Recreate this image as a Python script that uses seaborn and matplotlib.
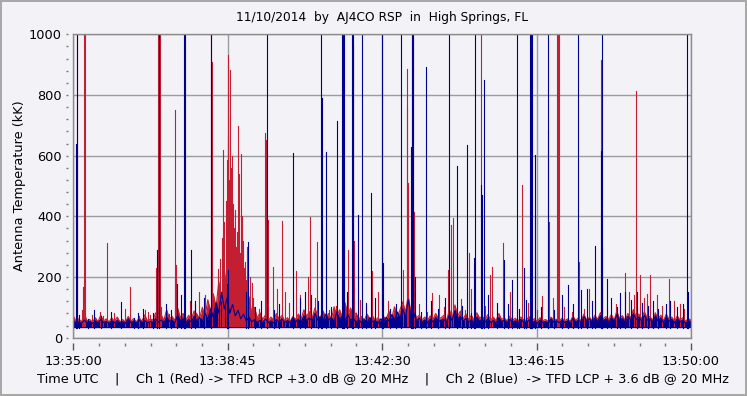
import numpy as np
import pandas as pd
import matplotlib
matplotlib.use('Agg')
import matplotlib.pyplot as plt
from matplotlib.ticker import MultipleLocator, FixedLocator
import seaborn as sns

# time axis: seconds after 13:35:00, noise band sampled every 4 s
baseStep = 4.0
tickSeconds = [0, 225, 450, 675, 900]
tickLabels = ['13:35:00', '13:38:45', '13:42:30', '13:46:15', '13:50:00']

# bottom of the noise band for each channel (kK)
redFloor = 38
blueFloor = 33

# Ch 1 (red) top of the noise band, one row per minute
redBase = [
    72, 54, 62, 52, 78, 56, 60, 51, 66, 53, 74, 55, 62, 52, 65,
    54, 68, 52, 60, 51, 70, 55, 63, 52, 66, 54, 75, 56, 61, 58,
    82, 60, 76, 57, 92, 62, 70, 56, 98, 65, 80, 58, 74, 60, 88,
    78, 62, 100, 70, 125, 85, 145, 100, 185, 120, 225, 140, 265, 160, 245,
    210, 130, 175, 100, 135, 80, 100, 65, 82, 60, 75, 56, 68, 58, 80,
    60, 74, 56, 66, 54, 70, 60, 78, 62, 92, 70, 86, 65, 98, 72,
    68, 88, 64, 80, 60, 102, 70, 92, 66, 115, 75, 98, 68, 82, 62,
    70, 58, 78, 62, 72, 57, 66, 55, 70, 60, 88, 65, 102, 70, 92,
    118, 85, 138, 80, 98, 65, 74, 58, 68, 56, 72, 60, 80, 62, 66,
    74, 58, 92, 65, 108, 72, 88, 62, 78, 60, 74, 58, 82, 65, 70,
    60, 76, 58, 68, 56, 80, 60, 66, 55, 71, 58, 64, 54, 68, 60,
    57, 70, 55, 63, 53, 66, 56, 60, 54, 68, 57, 61, 55, 64, 56,
    62, 54, 71, 57, 66, 55, 78, 58, 68, 56, 74, 60, 83, 62, 70,
    60, 76, 58, 88, 62, 73, 57, 80, 65, 93, 68, 78, 62, 86, 66,
    70, 58, 82, 62, 74, 56, 78, 60, 68, 55, 72, 58, 66, 54, 63,
    58,
]

# Ch 2 (blue) top of the noise band
blueBase = [
    56, 48, 52, 47, 58, 50, 53, 47, 55, 49, 60, 50, 54, 47, 56,
    49, 57, 48, 53, 47, 62, 50, 55, 48, 58, 50, 56, 49, 53, 51,
    62, 52, 58, 50, 68, 54, 57, 49, 75, 55, 63, 51, 60, 53, 70,
    56, 66, 54, 80, 60, 95, 68, 115, 82, 150, 95, 130, 80, 110, 72,
    90, 62, 78, 55, 68, 52, 60, 50, 57, 49, 62, 50, 55, 49, 60,
    51, 62, 50, 57, 49, 66, 53, 60, 51, 72, 56, 65, 54, 80, 58,
    68, 55, 78, 58, 66, 53, 85, 60, 70, 55, 76, 58, 63, 52, 58,
    50, 60, 49, 66, 52, 57, 48, 62, 51, 68, 54, 76, 58, 85, 62,
    95, 66, 125, 72, 82, 55, 64, 51, 58, 49, 62, 52, 67, 54, 57,
    60, 51, 76, 56, 90, 60, 70, 54, 64, 52, 58, 50, 67, 54, 60,
    52, 62, 50, 57, 48, 66, 52, 58, 49, 61, 51, 55, 48, 60, 52,
    49, 59, 48, 54, 47, 58, 50, 53, 48, 62, 51, 56, 49, 58, 50,
    55, 48, 64, 52, 58, 49, 70, 54, 62, 51, 66, 54, 72, 56, 62,
    52, 66, 54, 76, 56, 63, 51, 70, 58, 80, 60, 68, 55, 74, 58,
    62, 52, 72, 55, 65, 50, 68, 54, 60, 49, 63, 52, 58, 48, 55,
    52,
]

# bursts (seconds after 13:35:00, kK); values above 1000 run off the top
redSpikeT = [5.0, 13.7, 15.6, 17.0, 38.9, 49.5, 83.0, 104.5, 111.8, 121.0,
             124.1, 125.6, 147.7, 148.6, 149.6, 183.6, 191.9, 200.6, 202.1, 211.3,
             214.0, 216.0, 218.6, 220.0, 221.8, 223.5, 225.0, 225.8, 226.9, 227.5,
             228.3, 229.8, 231.0, 232.0, 233.0, 234.1, 235.5, 237.0, 238.5, 240.4,
             241.9, 243.0, 244.3, 246.0, 247.3, 248.7, 250.0, 251.6, 253.0, 254.5,
             257.0, 261.0, 279.7, 281.0, 284.1, 291.4, 304.5, 308.5, 324.0, 342.4,
             345.3, 354.6, 394.4, 400.7, 409.4, 434.8, 480.8, 485.8, 486.6, 488.1,
             493.0, 494.5, 496.8, 523.0, 546.4, 549.9, 553.7, 564.4, 577.0, 579.4,
             593.6, 607.1, 609.6, 626.5, 654.2, 683.3, 691.2, 692.6, 704.5, 705.9,
             707.3, 736.8, 751.8, 768.4, 797.0, 804.3, 817.4, 820.3, 826.1, 836.3,
             840.7, 867.5, 884.0]
redSpikeV = [1200, 168, 1500, 1500, 85, 312, 168, 90, 75, 230,
             1500, 1500, 200, 750, 240, 150, 140, 1200, 910, 225,
             260, 330, 619, 380, 450, 585, 932, 660, 520, 470,
             882, 560, 600, 440, 380, 361, 420, 300, 350, 698,
             540, 280, 607, 400, 320, 230, 250, 190, 300, 160,
             200, 180, 674, 650, 388, 232, 383, 150, 220, 200,
             399, 316, 320, 289, 320, 220, 223, 885, 756, 510,
             1500, 1500, 415, 147, 223, 371, 393, 128, 278, 160,
             1500, 207, 233, 313, 503, 136, 684, 382, 1500, 1500,
             1500, 250, 160, 915, 110, 212, 140, 813, 207, 145,
             207, 195, 110]

# smaller needles sticking out of the red band
redSmallT = [12, 27, 44, 60, 76, 96, 109, 128, 139, 170,
             178, 262, 270, 297, 315, 331, 352, 372, 383, 418,
             427, 444, 459, 470, 503, 516, 533, 540, 571, 586,
             600, 617, 636, 646, 663, 676, 699, 715, 727, 744,
             760, 777, 790, 810, 831, 850, 858, 875, 890]
redSmallV = [90, 75, 70, 80, 95, 72, 85, 100, 78, 120,
             110, 130, 95, 160, 115, 140, 130, 90, 105, 125,
             100, 150, 120, 95, 110, 85, 140, 100, 90, 120,
             105, 80, 150, 95, 115, 90, 130, 100, 85, 95,
             120, 100, 110, 150, 130, 140, 105, 120, 95]

blueSpikeT = [4.0, 5.2, 30.6, 69.5, 94.3, 122.4, 125.3, 151.5, 161.7, 163.2,
              171.9, 200.6, 224.4, 225.8, 251.6, 255.0, 282.2, 320.5, 337.6, 360.5,
              362.4, 368.6, 384.6, 391.1, 392.5, 393.7, 405.6, 407.1, 408.0, 415.2,
              421.1, 433.3, 449.3, 451.7, 477.0, 491.6, 493.5, 494.9, 497.9, 514.3,
              547.8, 558.6, 574.0, 584.2, 585.7, 594.0, 595.5, 598.8, 627.0, 639.6,
              646.0, 656.0, 665.4, 666.9, 667.9, 672.6, 673.4, 692.0, 721.2, 735.8,
              748.0, 755.3, 760.6, 768.9, 769.9, 770.8, 778.0, 791.7, 804.3, 821.3,
              844.6, 863.1, 893.7, 896.0]
blueSpikeV = [640, 1500, 90, 119, 80, 290, 1500, 177, 1500, 1500,
              290, 1500, 177, 223, 150, 316, 1500, 608, 150, 1500,
              790, 612, 715, 1500, 1500, 1500, 1500, 1500, 960, 404,
              1500, 476, 1500, 245, 1500, 630, 1500, 1500, 200, 891,
              1500, 566, 635, 263, 1500, 503, 470, 849, 256, 190,
              1500, 230, 1500, 1500, 1500, 602, 404, 1500, 174, 1500,
              160, 120, 302, 616, 1500, 300, 192, 100, 150, 150,
              120, 110, 1500, 150]

blueSmallT = [9, 21, 40, 55, 88, 101, 116, 135, 143, 157,
              178, 190, 265, 274, 292, 300, 330, 347, 356, 376,
              399, 426, 440, 462, 470, 507, 521, 532, 541, 567,
              579, 604, 617, 633, 649, 660, 682, 700, 712, 728,
              739, 784, 797, 812, 828, 838, 852, 870, 880, 888]
blueSmallV = [75, 60, 70, 85, 65, 95, 80, 110, 90, 140,
              120, 130, 100, 120, 90, 110, 130, 140, 120, 100,
              150, 115, 130, 95, 110, 85, 120, 95, 130, 105,
              80, 140, 115, 110, 95, 125, 100, 90, 140, 110,
              157, 130, 148, 125, 113, 105, 95, 120, 100, 110]

redColor = '#C41E32'
blueColor = '#00008F'
bgColor = '#F3F3F7'
gridColor = '#9C9C9C'


def bandFrame(baseVals, floor):
    # two rows per sample: floor and top, so the min-max interval fills the band
    baseT = np.arange(len(baseVals)) * baseStep
    return pd.DataFrame({
        't': np.concatenate([baseT, baseT]),
        'v': np.concatenate([np.full(len(baseVals), float(floor)), np.array(baseVals, dtype=float)]),
    })


def needleFrame(spikeT, spikeV, floor):
    # each needle is its own unit: a vertical segment from the floor up to the peak
    n = len(spikeT)
    return pd.DataFrame({
        't': np.repeat(np.array(spikeT, dtype=float), 2),
        'v': np.ravel(np.column_stack([np.full(n, float(floor)), np.array(spikeV, dtype=float)])),
        'unit': np.repeat(np.arange(n), 2),
    })


def drawChannel(ax, baseVals, spikeT, spikeV, floor, color):
    sns.lineplot(data=bandFrame(baseVals, floor), x='t', y='v', ax=ax, color=color,
                 estimator='max', errorbar=('pi', 100), lw=0.8,
                 err_kws={'alpha': 1.0, 'linewidth': 0})
    sns.lineplot(data=needleFrame(spikeT, spikeV, floor), x='t', y='v', units='unit',
                 ax=ax, color=color, estimator=None, sort=False, lw=0.8)


plt.rcParams['font.family'] = ['DejaVu Sans']
plt.rcParams['font.size'] = 9

fig = plt.figure(figsize=(7.47, 3.96), dpi=100)
fig.patch.set_facecolor(bgColor)
fig.patch.set_edgecolor('#A8A8A8')
fig.patch.set_linewidth(1.5)
ax = fig.add_axes([73.3 / 747, 1 - 337.7 / 396, 617.7 / 747, 303.4 / 396])
ax.set_facecolor(bgColor)

drawChannel(ax, redBase, redSpikeT + redSmallT, redSpikeV + redSmallV, redFloor, redColor)
drawChannel(ax, blueBase, blueSpikeT + blueSmallT, blueSpikeV + blueSmallV, blueFloor, blueColor)

ax.set_xlim(0, 900)
ax.set_ylim(0, 1000)
ax.set_xticks(tickSeconds)
ax.set_yticks([0, 200, 400, 600, 800, 1000])
ax.grid(True, color=gridColor, lw=1.0)
ax.set_axisbelow(True)
ax.tick_params(length=0, labelbottom=False, labelleft=False)
ax.set_xlabel('')
ax.set_ylabel('')
for sp in ax.spines.values():
    sp.set_color('#8C8C8C')
    sp.set_linewidth(1.0)

# ticks sit a few pixels away from the frame, like the original app
secX = ax.secondary_xaxis(-5 / 303.4)
secX.spines['bottom'].set_visible(False)
secX.set_xticks(tickSeconds)
secX.set_xticklabels(tickLabels, fontsize=9.3)
secX.xaxis.set_minor_locator(FixedLocator([t for t in np.arange(0, 901, 37.5) if t not in tickSeconds]))
secX.tick_params(which='major', length=5, width=1, color='#555555', pad=4)
secX.tick_params(which='minor', length=2.2, width=1, color='#777777')

secY = ax.secondary_yaxis(-5 / 617.7)
secY.spines['left'].set_visible(False)
secY.set_yticks([0, 200, 400, 600, 800, 1000])
secY.set_yticklabels(['0', '200', '400', '600', '800', '1000'], fontsize=9.3)
secY.yaxis.set_minor_locator(MultipleLocator(40))
secY.tick_params(which='both', length=1.5, width=1, color='#777777', pad=3)

fig.text(382 / 747, 1 - 17 / 396, '11/10/2014  by  AJ4CO RSP  in  High Springs, FL',
         ha='center', va='center', fontsize=8.8)
fig.text(20 / 747, 1 - 186 / 396, 'Antenna Temperature (kK)', rotation=90,
         ha='center', va='center', fontsize=9.3)
fig.text(383 / 747, 1 - 379 / 396,
         'Time UTC    |    Ch 1 (Red) -> TFD RCP +3.0 dB @ 20 MHz    |    '
         'Ch 2 (Blue)  -> TFD LCP + 3.6 dB @ 20 MHz',
         ha='center', va='center', fontsize=9.3)

fig.savefig('out.png', dpi=100, facecolor=fig.get_facecolor(), edgecolor=fig.get_edgecolor())
